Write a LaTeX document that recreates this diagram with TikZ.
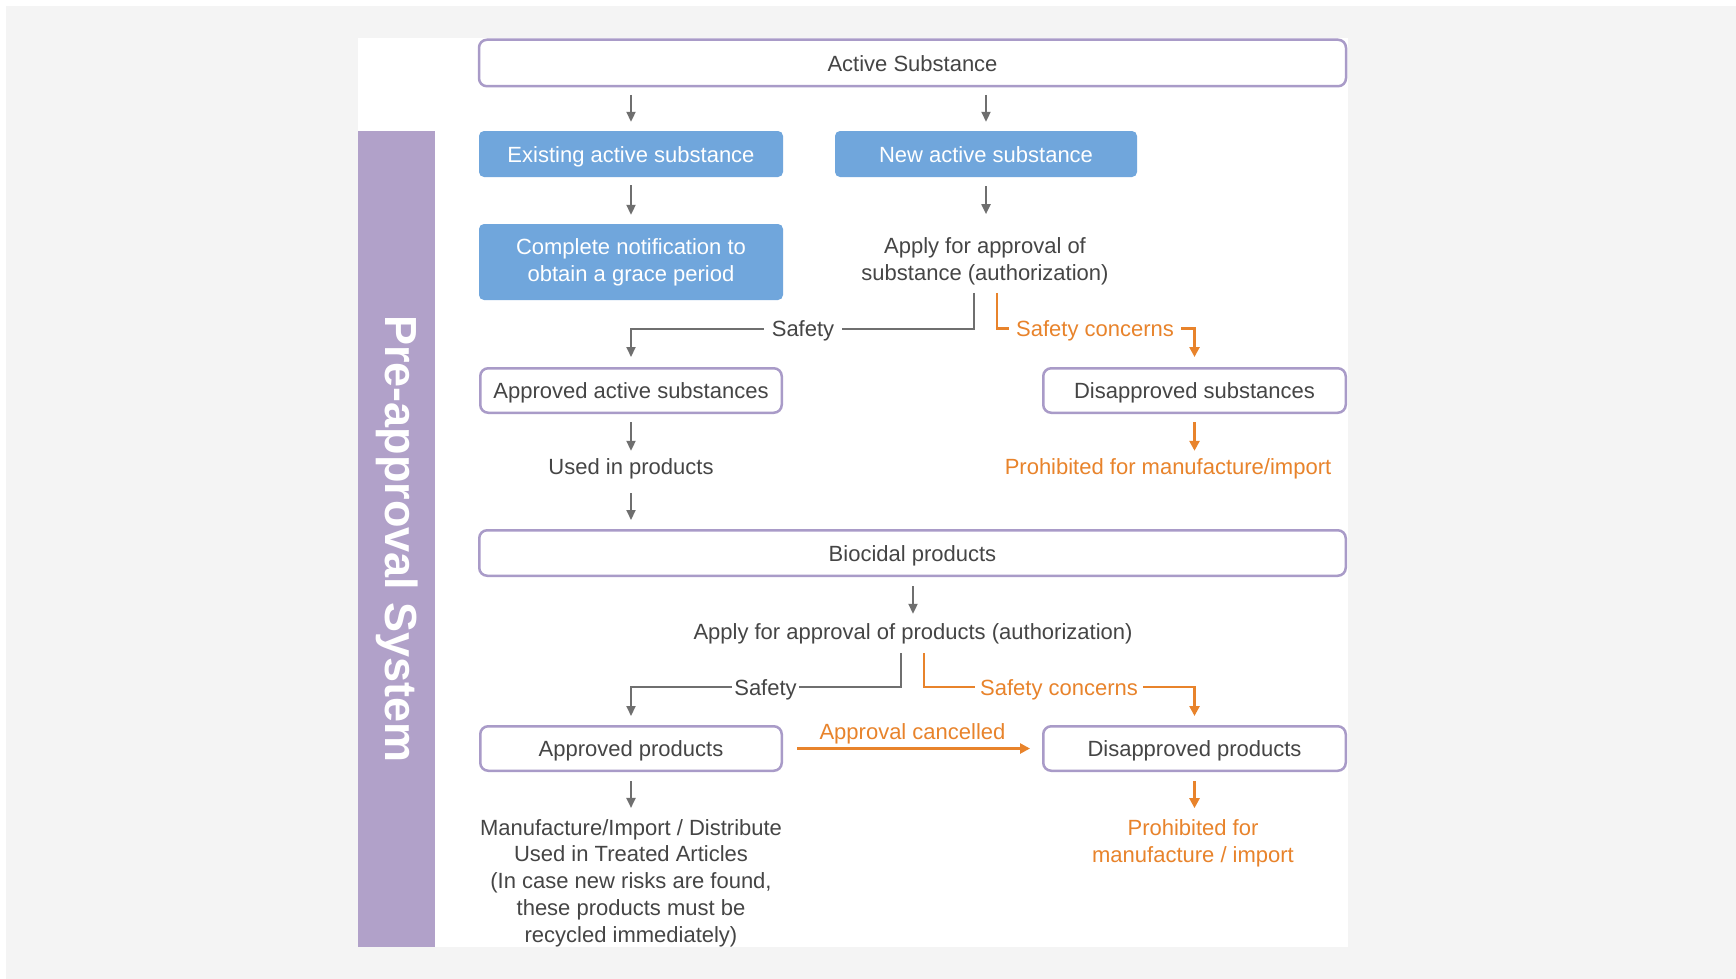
\documentclass[tikz,border=0pt]{standalone}
\usepackage{fontspec}
\setmainfont{Liberation Sans}
\usetikzlibrary{arrows.meta}
\definecolor{bggray}{HTML}{F4F4F4}
\definecolor{barpurple}{HTML}{B1A1C9}
\definecolor{boxpurple}{HTML}{A99BC8}
\definecolor{boxblue}{HTML}{70A6DC}
\definecolor{txtgray}{HTML}{454545}
\definecolor{arrgray}{HTML}{6F6F6F}
\definecolor{orng}{HTML}{E8832B}
\begin{document}
\begin{tikzpicture}[x=1pt,y=-1pt,
  every node/.style={font=\fontsize{22}{26.8}\selectfont, text=txtgray},
  pbox/.style={draw=boxpurple, line width=2.5pt, rounded corners=8pt, fill=white, inner sep=0pt, text height=20pt, text depth=4pt},
  bbox/.style={fill=boxblue, rounded corners=5pt, text=white, inner sep=0pt, align=center},
  onel/.style={text height=20pt, text depth=4pt},
  lbl/.style={inner sep=0pt, text height=20pt, text depth=4pt},
  mlbl/.style={inner sep=0pt, align=center},
  gline/.style={draw=arrgray, line width=2pt},
  garr/.style={gline, -{Triangle[length=10pt,width=9pt]}},
  oline/.style={draw=orng, line width=2.5pt},
  oarr/.style={oline, -{Triangle[length=10pt,width=10pt]}},
]
\useasboundingbox (0,0) rectangle (1736,979);
\fill[white] (0,0) rectangle (1736,979);
\fill[bggray] (6,6) rectangle (1736,979);
\fill[white] (358,38) rectangle (1348,947);
\fill[barpurple] (358,131) rectangle (435,947);
\node[rotate=-90, text=white, font=\fontsize{45}{50}\selectfont\bfseries] (title) at (397,539) {Pre-approval System};

% nodes
\node[pbox, minimum width=867pt, minimum height=46.5pt] (act) at (912.5,63) {\raisebox{-1pt}{Active Substance}};
\node[bbox, onel, minimum width=304pt, minimum height=46pt] (exist) at (631,154) {Existing active substance};
\node[bbox, onel, minimum width=302pt, minimum height=46pt] (new) at (986,154) {New active substance};
\node[bbox, minimum width=304pt, minimum height=76pt, font=\fontsize{22}{27}\selectfont] (compl) at (631,262) {Complete notification to\\obtain a grace period};
\node[mlbl] (applysub) at (985,261.5) {Apply for approval of\\substance (authorization)};
\node[pbox, minimum width=301.5pt, minimum height=44.5pt] (appr) at (631,390.5) {Approved active substances};
\node[pbox, minimum width=302.5pt, minimum height=44.5pt] (disap) at (1194.5,390.5) {Disapproved substances};
\node[lbl] (used) at (631,466) {Used in products};
\node[lbl, text=orng] (prohib1) at (1168,466) {Prohibited for manufacture/import};
\node[pbox, minimum width=866.5pt, minimum height=45.5pt] (bio) at (912.5,553) {Biocidal products};
\node[lbl] (applyprod) at (913,631) {Apply for approval of products (authorization)};
\node[pbox, minimum width=301.5pt, minimum height=44.5pt] (apprprod) at (631,748.5) {Approved products};
\node[pbox, minimum width=302.5pt, minimum height=44.5pt] (disprod) at (1194.5,748.5) {Disapproved products};
\node[mlbl] (manuf) at (631,883) {Manufacture/Import / Distribute\\Used in Treated Articles\\(In case new risks are found,\\these products must be\\recycled immediately)};
\node[mlbl, text=orng] (prohib2) at (1193,843.5) {Prohibited for\\manufacture / import};

\node[lbl, inner xsep=8pt] (safe1) at (803,328.5) {Safety};
\node[lbl, text=orng, inner xsep=7pt] (conc1) at (1095,328.5) {Safety concerns};
\node[lbl, inner xsep=2.5pt] (safe2) at (765.5,687) {Safety};
\node[lbl, text=orng, inner xsep=5pt] (conc2) at (1059,687) {Safety concerns};

% connectors
\draw[garr, shorten <=7.5pt, shorten >=9pt] (act.south -| exist.north) -- (exist.north);
\draw[garr, shorten <=7.5pt, shorten >=9pt] (act.south -| new.north) -- (new.north);
\draw[garr, shorten <=8pt, shorten >=9pt] (exist.south) -- (compl.north);
\draw[garr, shorten <=9pt, shorten >=23.5pt] (new.south) -- (new.south |- applysub.north);

\draw[gline] ([xshift=-11pt,yshift=-7.5pt]applysub.south) |- (safe1.east);
\draw[garr, shorten >=10pt] (safe1.west) -| (appr.north);
\draw[oline] ([xshift=12pt,yshift=-7.5pt]applysub.south) |- (conc1.west);
\draw[oarr, shorten >=10pt] (conc1.east) -| (disap.north);

\draw[garr, shorten <=8pt, shorten >=3pt] (appr.south) -- (used.north);
\draw[garr, shorten <=15pt, shorten >=9pt] (used.south) -- (used.south |- bio.north);
\draw[oarr, shorten <=8pt, shorten >=3pt] (disap.south) -- (disap.south |- prohib1.north);

\draw[garr, shorten <=9pt, shorten >=5pt] (bio.south -| applyprod.north) -- (applyprod.north);
\draw[gline] ([xshift=-12pt,yshift=-10pt]applyprod.south) |- (safe2.east);
\draw[garr, shorten >=9pt] (safe2.west) -| (apprprod.north);
\draw[oline] ([xshift=11pt,yshift=-10pt]applyprod.south) |- (conc2.west);
\draw[oarr, shorten >=9pt] (conc2.east) -| (disprod.north);

\draw[oarr, shorten <=14pt, shorten >=12pt] (apprprod.east) -- node[lbl, text=orng, above=4pt] {Approval cancelled} (disprod.west);

\draw[garr, shorten <=9pt, shorten >=11pt] (apprprod.south) -- (manuf.north);
\draw[oarr, shorten <=9pt, shorten >=11.5pt] (disprod.south) -- (disprod.south |- prohib2.north);
\end{tikzpicture}
\end{document}
